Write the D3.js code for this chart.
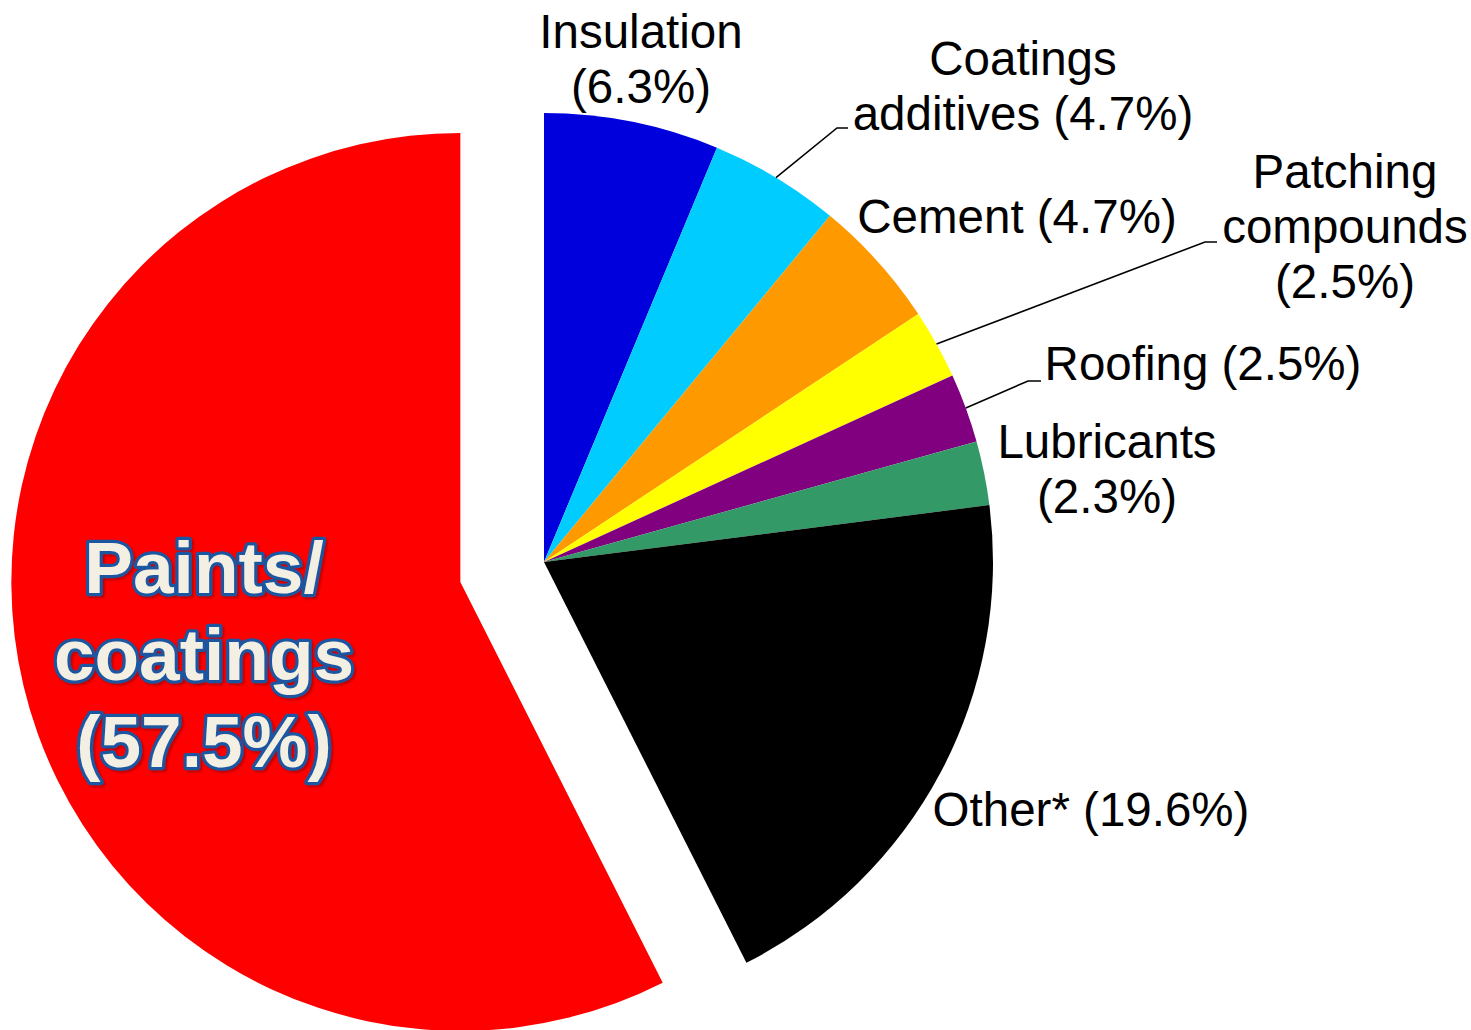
<!DOCTYPE html>
<html>
<head>
<meta charset="utf-8">
<script src="https://cdn.jsdelivr.net/npm/d3@7"></script>
<style>
  html, body { margin: 0; padding: 0; background: #fff; overflow: hidden; }
  text { font-family: "Liberation Sans", Arial, Helvetica, sans-serif; }
</style>
</head>
<body>
<svg id="chart" width="1471" height="1030"></svg>
<script>
// Market share by end use (%)
const categories = ["Insulation", "Coatings additives", "Cement", "Patching compounds",
                    "Roofing", "Lubricants", "Other*", "Paints/ coatings"];
const shares = [6.3, 4.7, 4.7, 2.5, 2.5, 2.3, 19.6, 57.5];
const sliceColors = ["#0000dd", "#00ccff", "#ff9900", "#ffff00",
                     "#800080", "#339966", "#000000", "#ff0000"];
// how each label is broken into lines ("%v" is replaced by the share)
const labelLines = [
  ["Insulation", "(%v%)"],
  ["Coatings", "additives (%v%)"],
  ["Cement (%v%)"],
  ["Patching", "compounds", "(%v%)"],
  ["Roofing (%v%)"],
  ["Lubricants", "(%v%)"],
  ["Other* (%v%)"],
  ["Paints/", "coatings", "(%v%)"]
];

const svg = d3.select("#chart");
const cx = 544, cy = 562, radius = 449;
const explodeIndex = 7, explodeDist = 86;

// label placement: anchor point of the first baseline, plus optional leader elbow
const labelLayout = [
  { x: 641,  y: 48 },
  { x: 1023, y: 75,  elbow: [837, 128], end: [848, 128] },
  { x: 1017, y: 233 },
  { x: 1345, y: 188, elbow: [1205, 242], end: [1217, 242] },
  { x: 1203, y: 380, elbow: [1028, 381], end: [1041, 381] },
  { x: 1107, y: 458 },
  { x: 1091, y: 826 },
  { x: 204,  y: 593, inside: true }
];

const pie = d3.pie().sort(null).value(d => d).startAngle(0).endAngle(2 * Math.PI);
const arcs = pie(shares);
const arc = d3.arc().innerRadius(0).outerRadius(radius);

const g = svg.append("g").attr("transform", `translate(${cx},${cy})`);

function offsetOf(a, i) {
  if (i !== explodeIndex) return [0, 0];
  const mid = (a.startAngle + a.endAngle) / 2;
  return [Math.sin(mid) * explodeDist, -Math.cos(mid) * explodeDist];
}

g.selectAll("path.slice")
  .data(arcs)
  .join("path")
  .attr("class", "slice")
  .attr("d", arc)
  .attr("fill", (d, i) => sliceColors[i])
  .attr("transform", (d, i) => {
    const [dx, dy] = offsetOf(d, i);
    return `translate(${dx},${dy})`;
  });

// leader lines from slice edge
arcs.forEach((a, i) => {
  const L = labelLayout[i];
  if (!L.elbow) return;
  const mid = (a.startAngle + a.endAngle) / 2;
  const sx = cx + Math.sin(mid) * radius, sy = cy - Math.cos(mid) * radius;
  svg.append("polyline")
    .attr("points", [[sx, sy], L.elbow, L.end].map(p => p.join(",")).join(" "))
    .attr("fill", "none")
    .attr("stroke", "#000")
    .attr("stroke-width", 1.6);
});

const defs = svg.append("defs");
defs.append("filter").attr("id", "soft")
  .attr("x", "-10%").attr("y", "-10%").attr("width", "120%").attr("height", "120%")
  .append("feDropShadow")
  .attr("dx", 2).attr("dy", 2).attr("stdDeviation", 1.2)
  .attr("flood-color", "#000").attr("flood-opacity", 0.25);

// labels
arcs.forEach((a, i) => {
  const L = labelLayout[i];
  const lines = labelLines[i].map(s => s.replace("%v", shares[i].toFixed(1)));
  const t = svg.append("text")
    .attr("text-anchor", "middle")
    .attr("x", L.x).attr("y", L.y);
  if (L.inside) {
    t.attr("font-size", 73).attr("font-weight", "bold")
      .attr("fill", "#f3f0e3")
      .attr("stroke", "#1d55a0").attr("stroke-width", 6.5)
      .attr("stroke-linejoin", "round")
      .attr("paint-order", "stroke")
      .attr("filter", "url(#soft)");
  } else {
    t.attr("font-size", 47.5).attr("fill", "#000");
  }
  const lh = L.inside ? 87 : 55;
  lines.forEach((s, k) => {
    t.append("tspan").attr("x", L.x).attr("y", L.y + k * lh).text(s);
  });
});
</script>
</body>
</html>
